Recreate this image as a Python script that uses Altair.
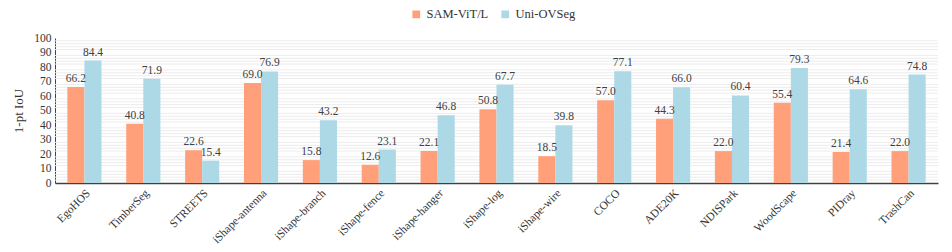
import altair as alt
import pandas as pd

categories = ["EgoHOS", "TimberSeg", "STREETS", "iShape-antenna", "iShape-branch",
              "iShape-fence", "iShape-hanger", "iShape-log", "iShape-wire", "COCO",
              "ADE20K", "NDISPark", "WoodScape", "PIDray", "TrashCan"]
sam_vals = [66.2, 40.8, 22.6, 69.0, 15.8, 12.6, 22.1, 50.8, 18.5, 57.0, 44.3, 22.0, 55.4, 21.4, 22.0]
ovseg_vals = [84.4, 71.9, 15.4, 76.9, 43.2, 23.1, 46.8, 67.7, 39.8, 77.1, 66.0, 60.4, 79.3, 64.6, 74.8]
series = ["SAM-ViT/L", "Uni-OVSeg"]
colors = ["#FFA07A", "#ADD8E6"]
major_ticks = list(range(0, 101, 10))
minor_ticks = [v for v in range(0, 101, 2) if v % 10 != 0]

rows = []
for c, a, b in zip(categories, sam_vals, ovseg_vals):
    rows.append({"dataset": c, "model": series[0], "value": a})
    rows.append({"dataset": c, "model": series[1], "value": b})
df = pd.DataFrame(rows)
grid_df = pd.DataFrame({"value": minor_ticks})

FONT = "Liberation Serif"

y_scale = alt.Scale(domain=[0, 100], nice=False)
y_axis = alt.Axis(title="1-pt IoU", values=major_ticks,
                  gridColor="#d4d4d4", gridWidth=1, ticks=False,
                  domainColor="#404040", labelOverlap=False,
                  labelFont=FONT, labelFontSize=11.5, labelColor="#333333",
                  titleFont=FONT, titleFontSize=13, titleFontWeight="normal",
                  titleColor="#333333", titlePadding=8, labelPadding=4)

minor = alt.Chart(grid_df).mark_rule(color="#ececec", strokeWidth=1).encode(
    y=alt.Y("value:Q", scale=y_scale, axis=None),
)

x_enc = alt.X("dataset:N", sort=categories,
              scale=alt.Scale(paddingInner=0.42, paddingOuter=0.21),
              axis=alt.Axis(title=None, labelAngle=-45, labelAlign="right", labelBaseline="top",
                            ticks=False, domainColor="#404040", domainWidth=1.5,
                            labelFont=FONT, labelFontSize=11.5, labelColor="#333333",
                            labelPadding=4, labelOverlap=False))
xo_enc = alt.XOffset("model:N", sort=series)

base = alt.Chart(df)

bars = base.mark_bar().encode(
    x=x_enc,
    xOffset=xo_enc,
    y=alt.Y("value:Q", scale=y_scale, axis=y_axis),
    color=alt.Color("model:N", sort=series,
                    scale=alt.Scale(domain=series, range=colors),
                    legend=alt.Legend(title=None, orient="none", direction="horizontal",
                                      legendX=355, legendY=-30, symbolType="square",
                                      symbolSize=60, symbolStrokeWidth=0,
                                      labelFont=FONT, labelFontSize=12.5,
                                      labelColor="#333333", columnPadding=10)),
)

labels = base.mark_text(dy=-8, font=FONT, fontSize=11.5, color="#404040").encode(
    x=alt.X("dataset:N", sort=categories),
    xOffset=xo_enc,
    y=alt.Y("value:Q", scale=y_scale, axis=None),
    text=alt.Text("value:Q", format=".1f"),
)

chart = alt.layer(minor, bars, labels).resolve_axis(y="independent").properties(
    width=883, height=145,
    autosize=alt.AutoSizeParams(type="none"),
    padding={"left": 47, "top": 30, "right": 6, "bottom": 62},
).configure(font=FONT).configure_view(stroke=None)

chart.save("out.html", embed_options={"renderer": "svg", "actions": False})
